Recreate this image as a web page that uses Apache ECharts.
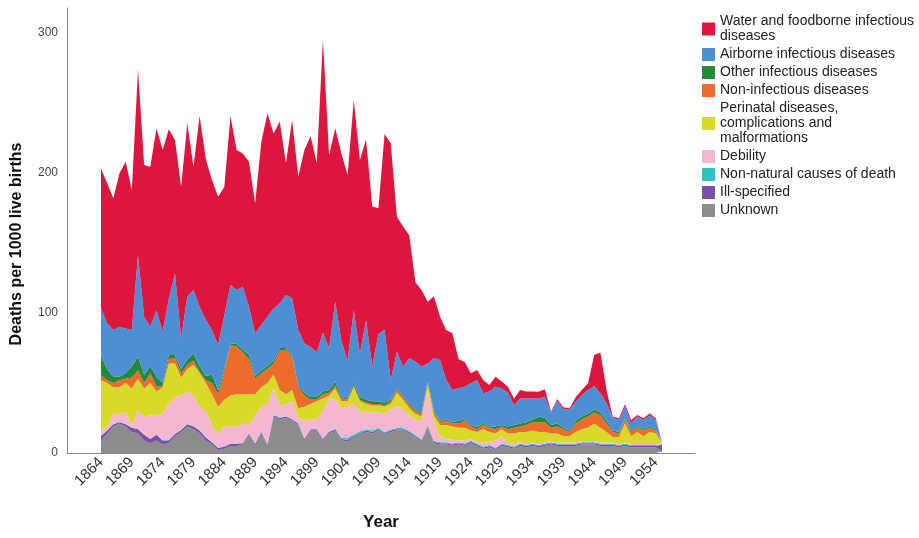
<!DOCTYPE html>
<html>
<head>
<meta charset="utf-8">
<script src="https://cdn.jsdelivr.net/npm/echarts@6/dist/echarts.min.js"></script>
<style>
html,body{margin:0;padding:0;background:#fff;}
#chart{width:919px;height:538px;}
</style>
</head>
<body>
<div id="chart"></div>
<script>
// Years 1864 .. 1955
const firstYear = 1864;
const lastYear = 1955;
const yTickLabels = [0,100,200,300];

const unknown = [
 9,14,19,21,19,15,14,9,7,9,
 6,7,12,15,19,17,14,9,6,2,
 3,5,5,6,13,5,14,5,26,24,
 25,23,20,9,16,16,9,14,16,9,
 8,11,13,15,14,16,13,15,16,16,
 14,11,8,18,7,6,6,5,6,5,
 7,5,3,4,2,5,4,3,5,4,
 5,4,5,6,5,5,5,5,6,6,
 6,5,5,5,4,5,4,4,4,4,
 4,1];
const illSpecified = [
 3,2,1.5,1,1.5,3,3,4,3,4,
 3,2,1.5,1.5,1.5,2,2,2,1.5,1.5,
 1.5,1.5,1.5,1,1,1.5,1,1,1,1,
 1,1,1,1,1,1,1,1,1,1,
 1.5,1,1,1,1,1,1,1,1,1,
 1,1,1,1,1,1,1,1,1,1,
 1,1,1,1,1,1,1,1,1,1,
 1,1,1,1,1,1,1,1,1,1,
 1,1,1,1,1,1,1,1,1,1,
 1,5];
const nonNatural = [
 0.3,0.3,0.3,0.3,0.3,0.3,0.3,0.3,0.3,0.3,
 0.3,0.3,0.3,0.3,0.3,0.3,0.3,0.3,0.3,0.3,
 0.3,0.3,0.3,0.3,0.3,0.3,0.3,0.3,0.3,0.3,
 0.3,0.3,0.3,0.3,0.3,0.3,0.3,0.3,0.3,1,
 1.5,1,1.5,1,1,1,1,0.8,0.8,0.8,
 0.8,0.8,0.8,0.8,0.8,0.7,0.7,0.7,0.7,0.7,
 0.7,0.7,0.7,0.7,0.7,0.7,0.7,0.7,0.7,0.7,
 0.7,0.7,0.7,0.7,0.7,0.7,0.7,0.7,0.7,0.7,
 0.7,0.7,0.7,0.7,0.7,0.7,0.7,0.7,0.7,0.7,
 0.7,0.2];
const debility = [
 3.7,2.7,7.2,5.7,8.2,1.7,12.7,12.7,16.7,13.7,
 18.7,25.7,26.2,24.2,23.2,21.7,16.7,18.7,12.2,10.2,
 14.2,12.2,12.2,13.7,5.7,20.2,17.7,28.7,18.7,8.7,
 8.7,12.7,3.7,12.7,6.7,6.7,19.7,23.7,21.7,21,
 22,22,14.5,13,13,11,13,14.2,16.2,13.2,
 11.2,11.2,13.2,25.2,13.2,4.3,2.3,2.8,1.3,2.3,
 1.3,1.3,2.3,2.3,5.3,5.3,1.3,2.3,0.8,1.3,
 0.8,1.3,0.8,0.8,0.8,0.8,0.8,0.8,0.8,0.8,
 0.8,0.8,0.8,0.8,0.8,0.8,0.8,0.8,0.8,0.8,
 0.8,0.2];
const perinatal = [
 36,31,19,19,21,26,23,20,23,17,
 19,29,24,13,16,22,24,20,22,19,
 19,22,23,21,22,15,14,15,10,11,
 7,8,7,10,11,13,9,2,7,5,
 4,12,7,5,5,5,5,4,9,7,
 5,4,3,4,5,8,10,9.5,9,9,
 6,7,10,7,5,5,7,7,7.5,8,
 8.5,8,7.5,5.5,6.5,4.5,4.5,7.5,8.5,9.5,
 12.5,10.5,7.5,4,5,13.5,5.5,8.5,5.5,8.5,
 7.5,0.2];
const nonInfectious = [
 3.7,2,3,5,3,8,6,4,7,3.5,
 1,3,4,3,3,3,1,2,8,9,
 20,36,34,30,25,11,10,10,8,28,
 32,24,15,8,3,1,3,2,2,2,
 1,1,1,1,1,1,1,2,2,2,
 2,2,2,1,2,2,3,2,3,5,
 3,2,3,3,3,2,3,4,4,5,
 6,7,7,4,5,5,3,6,7,8,
 8,9,6,3.5,2.5,3,3,3,4,3,
 2,0.2];
const otherInfectious = [
 14.3,8,4.5,2.5,4,8,10,6,5,7,
 2,3,2,3,4,5,4,3,6,3,
 2,1,2,2,3,2,2,2,2,2,
 1,1,1,2,2,2,2,2,3,1,
 1,2,2,2,2,2,2,1,1,1,
 1,1,1,1,1,1,1,1,2,1,
 1,1.5,1,1,2,1,2,2,2,2,
 2,4,3,2,2,1,1,2,2,2,
 2,2,2,1,1,1,1,1,1,1,
 1,0.2];
const airborne = [
 33.3,32.6,33.4,35.7,32,25.9,72.4,41.4,28.2,47.5,
 36.7,40,58.3,22,44.7,45.4,42.5,40,31.9,32.4,
 38,42,38.4,44.8,34.5,30.5,32.4,35.4,37.3,31.9,
 37.9,40.5,39.9,35.3,35.9,32,42,30,57,40,
 27,52,31,57,25,48,52,14,26.4,20.7,
 32.6,34.2,32.7,13,37.6,43.4,28.1,23,23.2,23.4,
 29.8,33.6,21.6,25,28.4,26,24,14.3,18,17,
 15,13,15.2,8.5,16.5,13,15,13.7,15.4,17,
 16.9,13.6,12.5,9.5,8.5,8,5.2,7,6.5,8,
 6.6,0.5];
const waterFood = [
 100,100,94,109.6,119,100,132.6,108.3,114.3,129.9,
 129.7,121.2,95.3,108.2,123.8,88.1,136.2,115,107.1,105.6,
 92,120.7,100,95.2,103.5,92.8,130.6,145.2,125,129.8,
 94,127.4,109.5,138.1,150.5,134.9,209,137.9,123.9,134,
 132.6,150.1,138.3,129,114,89.8,139.9,169.2,96.4,100,
 87.9,56.8,54.7,44,44.4,31,35.8,40.5,20.8,17.6,
 7.2,7.2,9.5,4.6,7.1,5,4.4,4.7,6,5,
 5,4.8,5.3,1,1.1,1.6,0.9,3.1,3.6,4.8,
 22.1,29.1,9.5,0.5,1.3,1.8,2.4,1.1,1.3,1.3,
 1.2,0.5];

const years = [];
for (let y = firstYear; y <= lastYear; y++) years.push(String(y));

// bottom to top stacking order
const seriesDefs = [
  {name:'Unknown', data: unknown, color:'#8C8C8C'},
  {name:'Ill-specified', data: illSpecified, color:'#7A50AA'},
  {name:'Non-natural causes of death', data: nonNatural, color:'#2EC2C0'},
  {name:'Debility', data: debility, color:'#F5B6D1'},
  {name:'Perinatal diseases, complications and malformations', data: perinatal, color:'#D8D929'},
  {name:'Non-infectious diseases', data: nonInfectious, color:'#EE6B2E'},
  {name:'Other infectious diseases', data: otherInfectious, color:'#238A3B'},
  {name:'Airborne infectious diseases', data: airborne, color:'#4D8ED4'},
  {name:'Water and foodborne infectious diseases', data: waterFood, color:'#DC163D'}
];
const legendLabels = {
  'Water and foodborne infectious diseases': 'Water and foodborne infectious\ndiseases',
  'Perinatal diseases, complications and malformations': 'Perinatal diseases,\ncomplications and\nmalformations'
};

const chart = echarts.init(document.getElementById('chart'), null, {renderer:'canvas'});
const font = 'Liberation Sans, Arial, sans-serif';
const Y_MAX = 316;
chart.setOption({
  backgroundColor:'#ffffff',
  animation:false,
  grid:[
    {left:101, right:257, top:10.6, bottom:85, containLabel:false},
    {left:67, right:224, top:8, bottom:85, containLabel:false}
  ],
  legend:{
    orient:'vertical', left:697, top:9,
    itemWidth:13, itemHeight:13, itemGap:3,
    icon:'rect',
    data: seriesDefs.map(s=>s.name).reverse(),
    formatter: n => legendLabels[n] || n,
    textStyle:{fontFamily:font, fontSize:14, lineHeight:15, color:'#222'}
  },
  xAxis:[{
    type:'category', gridIndex:0, data: years, boundaryGap:false,
    axisLine:{show:false}, axisTick:{show:false}, splitLine:{show:false},
    axisLabel:{interval:4, rotate:45, margin:7, fontFamily:font, fontSize:15, color:'#333'}
  },{
    type:'value', gridIndex:1, min:0, max:1,
    axisLine:{show:true, lineStyle:{color:'#888', width:1}},
    axisTick:{show:false}, splitLine:{show:false}, axisLabel:{show:false},
    name:'Year', nameLocation:'middle', nameGap:61,
    nameTextStyle:{fontFamily:font, fontSize:17, fontWeight:'bold', color:'#111'}
  }],
  yAxis:[{
    type:'value', gridIndex:0, min:0, max:Y_MAX, show:false, splitLine:{show:false}
  },{
    type:'value', gridIndex:1, min:0, max:1,
    axisLine:{show:true, lineStyle:{color:'#888', width:1}},
    axisTick:{show:false}, splitLine:{show:false}, axisLabel:{show:false}
  },{
    type:'value', gridIndex:0, min:0, max:Y_MAX, interval:100, position:'left', offset:34,
    axisLine:{show:false}, axisTick:{show:false}, splitLine:{show:false},
    axisLabel:{showMaxLabel:false, margin:9, fontFamily:font, fontSize:12, color:'#444',
      formatter: v => yTickLabels.indexOf(v) >= 0 ? String(v) : ''}
  }],
  graphic:[{
    type:'text', x:17, y:244, rotation:Math.PI/2,
    style:{text:'Deaths per 1000 live births', font:'bold 16px Liberation Sans, Arial, sans-serif', fill:'#111', textAlign:'center', textVerticalAlign:'middle'}
  }],
  series: seriesDefs.map(s => ({
    name:s.name, type:'line', stack:'total', symbol:'none', smooth:false,
    xAxisIndex:0, yAxisIndex:0,
    itemStyle:{color:s.color},
    lineStyle:{width:0, color:s.color},
    areaStyle:{color:s.color, opacity:1},
    emphasis:{disabled:true},
    data: s.data
  }))
});
</script>
</body>
</html>
